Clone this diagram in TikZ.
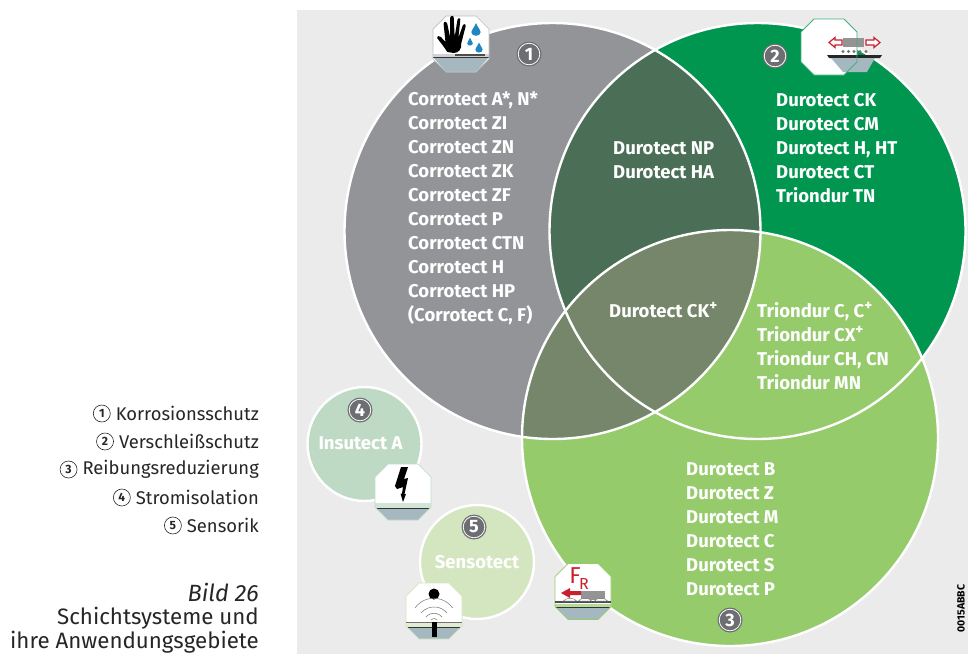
\documentclass[tikz,border=0pt]{standalone}
\usepackage{fontspec}
\setmainfont{Fira Sans}
\definecolor{bgc}{HTML}{EBEBEB}
\definecolor{cgray}{HTML}{929497}
\definecolor{cgreen}{HTML}{009650}
\definecolor{clight}{HTML}{96CB6C}
\definecolor{cdark}{HTML}{4A6E56}
\definecolor{cmix}{HTML}{75866A}
\definecolor{cfour}{HTML}{BFDAC4}
\definecolor{cfive}{HTML}{D3E6C0}
\definecolor{cone}{HTML}{BDBFC1}
\definecolor{badge}{HTML}{6D6E71}
\definecolor{substr}{HTML}{A6B8BF}
\definecolor{redc}{HTML}{C8202F}
\definecolor{dropc}{HTML}{1F86C4}
\newcommand{\supplus}{\raisebox{0.36em}{\fontsize{15}{15}\selectfont +}}
\newcommand{\octpath}{(-15,-28) -- (15,-28) -- (28,-15) -- (28,15) -- (15,28) -- (-15,28) -- (-28,15) -- (-28,-15) -- cycle}
% #1 centre, #2 outline/band colour, #3 band top, #4 dark line y
\newcommand{\octicon}[4]{%
  \begin{scope}[shift={#1}]
    \fill[white] \octpath;
    \begin{scope}
      \clip \octpath;
      \fill[#2!70!white] (-28,#3) rectangle (28,#4);
      \fill[substr] (-28,#4) -- (28,#4) -- (15,28) -- (-15,28) -- cycle;
      \draw[line width=0.8pt,black!80] (-28,#4) -- (28,#4);
    \end{scope}
    \draw[#2,line width=0.7pt] \octpath;
  \end{scope}}
\tikzset{
  x=1pt,y=-1pt,
  zone/.style={white,line width=2.4pt},
  lab/.style={text=white,font=\fontsize{18.5}{24}\selectfont\bfseries,align=left,inner sep=0pt,anchor=west},
  badgeout/.style={circle,fill=badge,minimum size=25pt,inner sep=0pt,text=white,font=\fontsize{18}{18}\selectfont\bfseries,
    path picture={\draw[white,line width=0.8pt] (path picture bounding box.center) circle[radius=10.8pt];}},
  leg/.style={font=\fontsize{18.4}{18.4}\selectfont,anchor=east,inner sep=0pt,text=black!85},
  legnum/.style={circle,draw=black!85,line width=0.6pt,minimum size=17pt,inner sep=0pt,font=\fontsize{12}{12}\selectfont\bfseries,text=black!85,anchor=east},
  captext/.style={font=\fontsize{22.3}{25.5}\selectfont,align=right,anchor=east,inner sep=0pt,text=black!85},
}
\begin{document}
\begin{tikzpicture}
\useasboundingbox (0,0) rectangle (976,654);
\fill[bgc] (297,10) rectangle (968,654);
\def\ca{(552.5,231)}\def\cb{(757.5,231)}\def\cc{(730,438)}
% base fills
\fill[cgray] \ca circle[radius=208pt];
\fill[cgreen] \cb circle[radius=208pt];
\fill[clight] \cc circle[radius=208pt];
% overlaps
\begin{scope}\clip \ca circle[radius=208pt]; \fill[cdark] \cb circle[radius=208pt]; \end{scope}
\begin{scope}\clip \ca circle[radius=208pt]; \fill[cmix] \cc circle[radius=208pt]; \end{scope}
\begin{scope}\clip \cb circle[radius=208pt]; \fill[clight] \cc circle[radius=208pt]; \end{scope}
\begin{scope}\clip \ca circle[radius=208pt]; \clip \cb circle[radius=208pt]; \fill[cmix] \cc circle[radius=208pt]; \end{scope}
\draw[zone] \ca circle[radius=208pt];
\draw[zone] \cb circle[radius=208pt];
\draw[zone] \cc circle[radius=208pt];
\draw[zone,fill=cfour] (364.5,444) circle[radius=57pt];
\draw[zone,fill=cfive] (477,562) circle[radius=57pt];
% texts
\node[lab] (t1) at (408,208) {Corrotect A*, N*\\Corrotect ZI\\Corrotect ZN\\Corrotect ZK\\Corrotect ZF\\Corrotect P\\Corrotect CTN\\Corrotect H\\Corrotect HP\\(Corrotect C, F)};
\node[lab] (t2) at (776,148) {Durotect CK\\Durotect CM\\Durotect H, HT\\Durotect CT\\Triondur TN};
\node[lab] (t12) at (613,160) {Durotect NP\\Durotect HA};
\node[lab] (t123) at (609,310) {Durotect CK\supplus};
\node[lab] (t23) at (757,346) {Triondur C, C\supplus\\Triondur CX\supplus\\Triondur CH, CN\\Triondur MN};
\node[lab] (t3) at (686,529.5) {Durotect B\\Durotect Z\\Durotect M\\Durotect C\\Durotect S\\Durotect P};
\node[lab,anchor=center] (t4) at (360.5,443.5) {Insutect A};
\node[lab,anchor=center] (t5) at (477,562.5) {Sensotect};
% badges
\node[badgeout] (b1) at (529,54) {1};
\node[badgeout] (b2) at (775,56) {2};
\node[badgeout] (b3) at (730,620) {3};
\node[badgeout] (b4) at (360,410) {4};
\node[badgeout] (b5) at (474,527) {5};
% icon 1
\octicon{(461,44)}{cone}{10}{13}
\begin{scope}[shift={(461,44)}]
  \fill[black!70] (-6,10) rectangle (24,12);
  \begin{scope}[xshift=-4.5pt,xscale=0.92]
  \fill[black] (-10,8) .. controls (-14,2) and (-18,-2) .. (-21,-6)
    .. controls (-22,-8) and (-19,-9) .. (-17,-7) -- (-12,-2)
    -- (-14,-20) .. controls (-14,-23) and (-11,-23) .. (-10,-20) -- (-7,-7)
    -- (-7,-26) .. controls (-6,-29) and (-3,-29) .. (-3,-26) -- (-2,-7)
    -- (1,-24) .. controls (2,-27) and (5,-26) .. (4,-23) -- (2,-6)
    -- (7,-19) .. controls (8,-21) and (11,-20) .. (10,-18)
    -- (5,0) .. controls (6,5) and (2,9) .. (-3,9) -- cycle;
  \end{scope}
  \foreach \dx/\dy/\ds in {15/-14/1.15,9/-2/0.7,18/4/0.9}{
    \fill[dropc] (\dx,\dy-6*\ds) .. controls (\dx+1*\ds,\dy-3*\ds) and (\dx+4*\ds,\dy) .. (\dx+4*\ds,\dy+2*\ds)
      .. controls (\dx+4*\ds,\dy+6*\ds) and (\dx-4*\ds,\dy+6*\ds) .. (\dx-4*\ds,\dy+2*\ds)
      .. controls (\dx-4*\ds,\dy) and (\dx-1*\ds,\dy-3*\ds) .. (\dx,\dy-6*\ds) -- cycle;
  }
\end{scope}
% icon 2
\begin{scope}[shift={(829,47)}]
  \fill[white] \octpath;
  \fill[black!42] (14,-9) rectangle (35,0);
  \fill[black!85] (-2,8) -- (53,8) -- (51,11) -- (0,11) -- cycle;
  \fill[substr] (2,11) -- (46,11) -- (38,25) -- (14,25) -- cycle;
  \foreach \bx in {14,19.5,25,31,37}{\fill[black!55] (\bx,4.5) circle[radius=1.7pt];}
  \draw[redc,line width=1.2pt,fill=white] (0,-4.5) -- (6,-9.5) -- (6,-7) -- (13,-7) -- (13,-2) -- (6,-2) -- (6,0.5) -- cycle;
  \draw[redc,line width=1.2pt,fill=white] (51,-4.5) -- (45,-9.5) -- (45,-7) -- (37,-7) -- (37,-2) -- (45,-2) -- (45,0.5) -- cycle;
  \draw[cgreen!75,line width=0.9pt] \octpath;
\end{scope}
% icon 3
\octicon{(583,591.5)}{clight}{12}{16}
\begin{scope}[shift={(583,591.5)}]
  \fill[black!42] (-2,-1) rectangle (22,8.5);
  \fill[redc] (-22,1.5) -- (-13,-3.5) -- (-13,-0.5) -- (-2,-0.5) -- (-2,3.5) -- (-13,3.5) -- (-13,6.5) -- cycle;
  \fill[black!70] (-28,9) rectangle (28,11.5);
  \foreach \bx in {-13,2,18}{\fill[white,draw=black!60,line width=0.4pt] (\bx-6.5,9.5) arc[start angle=180,end angle=0,x radius=6.5pt,y radius=2.5pt] -- cycle;}
  \node[font=\fontsize{23}{23}\selectfont,text=redc,inner sep=0pt] (fr) at (-8,-15.5) {F};
  \node[font=\fontsize{16}{16}\selectfont,text=redc,inner sep=0pt] (frs) at (1,-8) {R};
\end{scope}
% icon 4
\octicon{(403,492)}{cfour}{11}{16}
\begin{scope}[shift={(403,492)}]
  \fill[black] (-2,-25) -- (5,-25) -- (1,-13) -- (5,-14) -- (1.5,2) -- (3,2) -- (0,10) -- (-2.5,1.5) -- (-1,1.5) -- (0,-5) -- (-6,-3) -- (-8,-6) -- cycle;
\end{scope}
% icon 5
\octicon{(434,611)}{cfive}{11}{16}
\begin{scope}[shift={(434,611)}]
  \fill[black] (0,-17) circle[radius=5.5pt];
  \draw[black!55,line width=0.5pt] (-19,-3) arc[start angle=145,end angle=35,radius=23pt];
  \draw[black!55,line width=0.5pt] (-13,2) arc[start angle=140,end angle=40,radius=17pt];
  \draw[black!55,line width=0.5pt] (-8,6) arc[start angle=140,end angle=40,radius=10.5pt];
  \draw[black!55,line width=0.5pt] (-3,9) arc[start angle=140,end angle=40,radius=4pt];
  \fill[black!55] (-28,10.5) rectangle (28,11.5);
  \fill[black] (-2.5,10.5) rectangle (2.5,26);
\end{scope}
% legend
\node[leg] (l1) at (259,413.5) {Korrosionsschutz};
\node[legnum] (n1) at ([xshift=-5pt]l1.west) {1};
\node[leg] (l2) at (259,441.5) {Verschleißschutz};
\node[legnum] (n2) at ([xshift=-5pt]l2.west) {2};
\node[leg] (l3) at (259,469.5) {Reibungsreduzierung};
\node[legnum] (n3) at ([xshift=-5pt]l3.west) {3};
\node[leg] (l4) at (259,497.5) {Stromisolation};
\node[legnum] (n4) at ([xshift=-5pt]l4.west) {4};
\node[leg] (l5) at (259,525.5) {Sensorik};
\node[legnum] (n5) at ([xshift=-5pt]l5.west) {5};
\node[captext] (c1) at (259,592.5) {\fontsize{23.5}{25.5}\selectfont\itshape Bild 26};
\node[captext] (c2) at (259,618) {Schichtsysteme und};
\node[captext] (c3) at (259,642.5) {ihre Anwendungsgebiete};
\node[rotate=90,font=\fontsize{10.5}{10.5}\selectfont\bfseries,inner sep=0pt,text=black] (code) at (961,608.5) {0015ABBC};
\end{tikzpicture}
\end{document}
